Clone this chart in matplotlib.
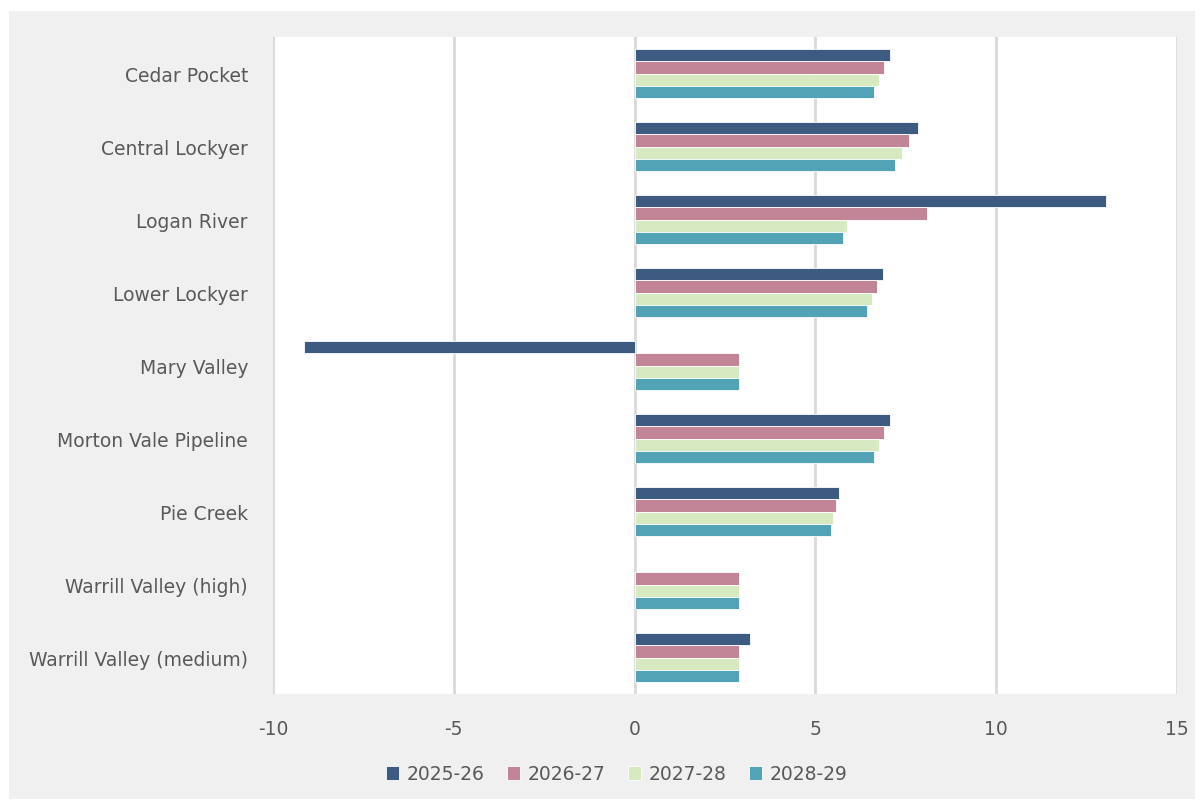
import numpy as np
import matplotlib.pyplot as plt
from matplotlib.patches import Rectangle

plt.rcParams["axes.unicode_minus"] = False

schemes = ["Cedar Pocket", "Central Lockyer", "Logan River", "Lower Lockyer", "Mary Valley",
           "Morton Vale Pipeline", "Pie Creek", "Warrill Valley (high)", "Warrill Valley (medium)"]
years = ["2025-26", "2026-27", "2027-28", "2028-29"]

y2025 = [7.07, 7.85, 13.04, 6.86, -9.14, 7.07, 5.66, np.nan, 3.2]
y2026 = [6.9, 7.6, 8.1, 6.69, 2.9, 6.9, 5.58, 2.9, 2.9]
y2027 = [6.77, 7.4, 5.88, 6.56, 2.9, 6.77, 5.5, 2.9, 2.9]
y2028 = [6.63, 7.21, 5.77, 6.44, 2.9, 6.63, 5.44, 2.9, 2.9]

colors = ["#3d5a80", "#c28497", "#d6e9c0", "#51a3b5"]

fig = plt.figure(figsize=(12.02, 8.03), dpi=100)
fig.patch.set_facecolor("white")
# grey panel behind the chart
fig.patches.append(Rectangle((9 / 1202, 3 / 803), 1186 / 1202, 788 / 803,
                             transform=fig.transFigure, facecolor="#f0f0f0",
                             edgecolor="none", zorder=-5))

ax = fig.add_axes([273 / 1202, 1 - 695 / 803, 904 / 1202, 657 / 803])
ax.set_facecolor("white")

pos = np.arange(len(schemes))
h = 0.165
for k, (vals, lab) in enumerate(zip([y2025, y2026, y2027, y2028], years)):
    ax.barh(pos + (k - 1.5) * h, vals, height=h, color=colors[k], label=lab,
            edgecolor="white", linewidth=0.6, zorder=3)

ax.set_xlim(-10, 15)
ax.set_xticks([-10, -5, 0, 5, 10, 15])
ax.set_ylim(len(schemes) - 0.5, -0.5)
ax.set_yticks(pos)
ax.set_yticklabels(schemes)
ax.grid(axis="x", color="#d9d9d9", linewidth=2, zorder=0)
for s in ax.spines.values():
    s.set_visible(False)
ax.tick_params(axis="both", length=0, labelsize=13.5, colors="#595959")
ax.tick_params(axis="x", pad=18)
ax.tick_params(axis="y", pad=18)

fig.legend(loc="center", bbox_to_anchor=(617 / 1202, 1 - 775 / 803), ncol=4,
           frameon=False, fontsize=13.5, labelcolor="#595959", handlelength=0.7,
           handleheight=0.7, handletextpad=0.4, columnspacing=1.2)

fig.savefig("out.png", dpi=100)
